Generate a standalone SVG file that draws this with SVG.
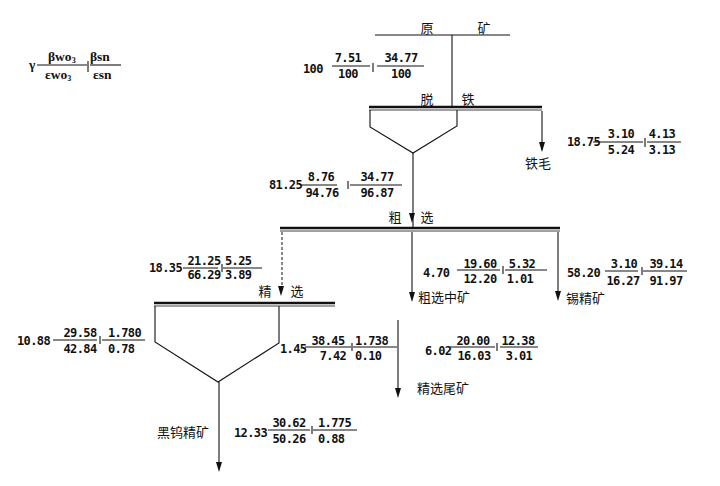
<svg xmlns="http://www.w3.org/2000/svg" width="720" height="486" viewBox="0 0 720 486">
<style>
.n{font-family:"DejaVu Sans Mono","Liberation Mono",monospace;font-weight:bold;font-size:12px;letter-spacing:-0.6px;fill:#111}
.c{font-family:"Noto Sans CJK SC","Noto Sans CJK TC",sans-serif;font-size:13px;fill:#111}
.g{font-family:"Liberation Serif",serif;font-weight:bold;font-size:13.5px;fill:#111}
.l{stroke:#111;stroke-width:1.1;fill:none}
.bar{stroke:#111;stroke-width:2.6;fill:none}
.bar2{stroke:#111;stroke-width:0.8;fill:none}
.d{stroke:#111;stroke-width:1;fill:none;stroke-dasharray:3 2}
</style>
<defs>
<path id="ah" d="M-3,-10 L3,-10 L0,0 Z" fill="#111"/>
</defs>
<rect width="720" height="486" fill="#fff"/>

<g id="legend">
<text class="g" x="29" y="69">γ</text>
<line class="l" x1="37" y1="65" x2="87" y2="65" stroke-width="0.8"/>
<text class="g" x="48" y="61">βwo<tspan font-size="8" dy="2">3</tspan></text>
<text class="g" x="45" y="79">εwo<tspan font-size="8" dy="2">3</tspan></text>
<line class="l" x1="88" y1="61" x2="88" y2="72" stroke-width="0.8"/>
<line class="l" x1="90" y1="65" x2="121" y2="65" stroke-width="0.8"/>
<text class="g" x="90" y="61">βsn</text>
<text class="g" x="93" y="79">εsn</text>
</g>

<g id="feed">
<line class="l" x1="375" y1="35" x2="510" y2="35"/>
<text class="c" x="427" y="33" text-anchor="middle">原</text>
<text class="c" x="484" y="33" text-anchor="middle">矿</text>
</g>
<g id="feed-data">
<text class="n" x="303" y="73">100</text>
<line class="l" x1="332" y1="66" x2="370" y2="66" stroke-width="0.7"/>
<text class="n" x="348" y="62" text-anchor="middle">7.51</text>
<text class="n" x="348" y="78" text-anchor="middle">100</text>
<line class="l" x1="373" y1="63" x2="373" y2="72" stroke-width="0.8"/>
<line class="l" x1="377" y1="66" x2="424" y2="66" stroke-width="0.7"/>
<text class="n" x="401" y="62" text-anchor="middle">34.77</text>
<text class="n" x="401" y="78" text-anchor="middle">100</text>
</g>

<g id="demag">
<line class="bar" x1="369" y1="107" x2="542" y2="107"/>
<line class="bar2" x1="369" y1="110" x2="542" y2="110"/>
<polyline class="l" points="370,110 370,127 413,153 457,126 457,110"/>
<text class="c" x="427" y="104" text-anchor="middle">脱</text>
<text class="c" x="468" y="104" text-anchor="middle">铁</text>
</g>

<g id="iron-tail">
<text class="c" x="538" y="168" text-anchor="middle">铁毛</text>
<text class="n" x="567" y="146">18.75</text>
<line class="l" x1="593" y1="142" x2="643" y2="142" stroke-width="0.7"/>
<text class="n" x="621" y="138" text-anchor="middle">3.10</text>
<text class="n" x="621" y="154" text-anchor="middle">5.24</text>
<line class="l" x1="645" y1="138" x2="645" y2="147" stroke-width="0.8"/>
<line class="l" x1="647" y1="142" x2="681" y2="142" stroke-width="0.7"/>
<text class="n" x="662" y="138" text-anchor="middle">4.13</text>
<text class="n" x="662" y="154" text-anchor="middle">3.13</text>
</g>

<g id="rougher-feed-data">
<text class="n" x="269" y="189">81.25</text>
<line class="l" x1="300" y1="185" x2="337" y2="185" stroke-width="0.7"/>
<text class="n" x="321" y="181" text-anchor="middle">8.76</text>
<text class="n" x="322" y="197" text-anchor="middle">94.76</text>
<line class="l" x1="348" y1="181" x2="348" y2="189" stroke-width="0.8"/>
<line class="l" x1="350" y1="185" x2="402" y2="185" stroke-width="0.7"/>
<text class="n" x="377" y="181" text-anchor="middle">34.77</text>
<text class="n" x="377" y="197" text-anchor="middle">96.87</text>
</g>

<g id="rougher">
<line class="bar" x1="280" y1="228" x2="560" y2="228"/>
<line class="bar2" x1="280" y1="231" x2="560" y2="231"/>
<text class="c" x="395" y="222" text-anchor="middle">粗</text>
<text class="c" x="427" y="222" text-anchor="middle">选</text>
</g>

<g id="rougher-conc-data">
<text class="n" x="149" y="272">18.35</text>
<line class="l" x1="183" y1="268" x2="218" y2="268" stroke-width="0.7"/>
<text class="n" x="204" y="265" text-anchor="middle">21.25</text>
<text class="n" x="204" y="279" text-anchor="middle">66.29</text>
<line class="l" x1="222" y1="264" x2="222" y2="272" stroke-width="0.8"/>
<line class="l" x1="223" y1="268" x2="262" y2="268" stroke-width="0.7"/>
<text class="n" x="225" y="265">5.25</text>
<text class="n" x="225" y="279">3.89</text>
</g>

<g id="middlings">
<text class="c" x="418" y="302">粗选中矿</text>
<text class="n" x="423" y="277">4.70</text>
<line class="l" x1="457" y1="270" x2="500" y2="270" stroke-width="0.7"/>
<text class="n" x="480" y="268" text-anchor="middle">19.60</text>
<text class="n" x="480" y="283" text-anchor="middle">12.20</text>
<line class="l" x1="503" y1="266" x2="503" y2="274" stroke-width="0.8"/>
<line class="l" x1="505" y1="270" x2="547" y2="270" stroke-width="0.7"/>
<text class="n" x="522" y="268" text-anchor="middle">5.32</text>
<text class="n" x="520" y="283" text-anchor="middle">1.01</text>
</g>

<g id="tin-conc">
<text class="c" x="566" y="303">锡精矿</text>
<text class="n" x="567" y="277">58.20</text>
<line class="l" x1="605" y1="271" x2="638" y2="271" stroke-width="0.7"/>
<text class="n" x="624" y="268" text-anchor="middle">3.10</text>
<text class="n" x="623" y="285" text-anchor="middle">16.27</text>
<line class="l" x1="642" y1="267" x2="642" y2="275" stroke-width="0.8"/>
<line class="l" x1="643" y1="271" x2="687" y2="271" stroke-width="0.7"/>
<text class="n" x="666" y="268" text-anchor="middle">39.14</text>
<text class="n" x="666" y="285" text-anchor="middle">91.97</text>
</g>

<g id="cleaner">
<line class="bar" x1="154" y1="303" x2="335" y2="303"/>
<line class="bar2" x1="154" y1="306" x2="335" y2="306"/>
<polyline class="l" points="155,306 155,342 218,382 279,343 279,306" stroke-width="1.4"/>
<text class="c" x="265" y="296" text-anchor="middle">精</text>
<text class="c" x="297" y="296" text-anchor="middle">选</text>
</g>

<g id="cleaner-left-data">
<text class="n" x="17" y="345">10.88</text>
<line class="l" x1="53" y1="340" x2="97" y2="340" stroke-width="0.7"/>
<text class="n" x="80" y="337" text-anchor="middle">29.58</text>
<text class="n" x="80" y="353" text-anchor="middle">42.84</text>
<line class="l" x1="100" y1="336" x2="100" y2="344" stroke-width="0.8"/>
<line class="l" x1="102" y1="340" x2="145" y2="340" stroke-width="0.7"/>
<text class="n" x="108" y="337">1.780</text>
<text class="n" x="108" y="353">0.78</text>
</g>

<g id="cleaner-right-data">
<text class="n" x="280" y="353">1.45</text>
<line class="l" x1="305" y1="347" x2="351" y2="347" stroke-width="0.7"/>
<text class="n" x="328" y="345" text-anchor="middle">38.45</text>
<text class="n" x="333" y="360" text-anchor="middle">7.42</text>
<line class="l" x1="352" y1="343" x2="352" y2="351" stroke-width="0.8"/>
<line class="l" x1="353" y1="347" x2="397" y2="347" stroke-width="0.7"/>
<text class="n" x="355" y="345">1.738</text>
<text class="n" x="355" y="360">0.10</text>
</g>

<g id="cleaner-tail">
<text class="c" x="417" y="393">精选尾矿</text>
</g>

<g id="tail-data">
<text class="n" x="425" y="355">6.02</text>
<line class="l" x1="450" y1="347" x2="495" y2="347" stroke-width="0.7"/>
<text class="n" x="473" y="345" text-anchor="middle">20.00</text>
<text class="n" x="474" y="360" text-anchor="middle">16.03</text>
<line class="l" x1="497" y1="343" x2="497" y2="351" stroke-width="0.8"/>
<line class="l" x1="500" y1="347" x2="538" y2="347" stroke-width="0.7"/>
<text class="n" x="518" y="345" text-anchor="middle">12.38</text>
<text class="n" x="519" y="360" text-anchor="middle">3.01</text>
</g>

<g id="wolframite-conc">
<text class="c" x="157" y="437" font-size="14">黑钨精矿</text>
<text class="n" x="234" y="437">12.33</text>
<line class="l" x1="268" y1="430" x2="310" y2="430" stroke-width="0.7"/>
<text class="n" x="289" y="427" text-anchor="middle">30.62</text>
<text class="n" x="289" y="443" text-anchor="middle">50.26</text>
<line class="l" x1="312" y1="426" x2="312" y2="434" stroke-width="0.8"/>
<line class="l" x1="313" y1="430" x2="357" y2="430" stroke-width="0.7"/>
<text class="n" x="318" y="427">1.775</text>
<text class="n" x="318" y="443">0.88</text>
</g>

<g id="connectors">
<line class="l" x1="452" y1="35" x2="452" y2="106"/>
<line class="l" x1="413" y1="153" x2="413" y2="227"/>
<use href="#ah" x="412" y="223"/>
<line class="l" x1="542" y1="111" x2="542" y2="150"/>
<use href="#ah" x="542" y="152"/>
<line class="d" x1="282" y1="232" x2="282" y2="290"/>
<use href="#ah" x="281" y="296"/>
<line class="l" x1="412" y1="232" x2="412" y2="298"/>
<use href="#ah" x="412" y="302"/>
<line class="l" x1="558" y1="232" x2="558" y2="298"/>
<use href="#ah" x="558" y="301"/>
<line class="l" x1="219" y1="382" x2="219" y2="468" stroke-width="1.4"/>
<use href="#ah" x="219" y="472"/>
<line class="l" x1="398" y1="320" x2="398" y2="394" stroke-width="1.3"/>
<use href="#ah" x="398" y="398"/>
</g>
</svg>
